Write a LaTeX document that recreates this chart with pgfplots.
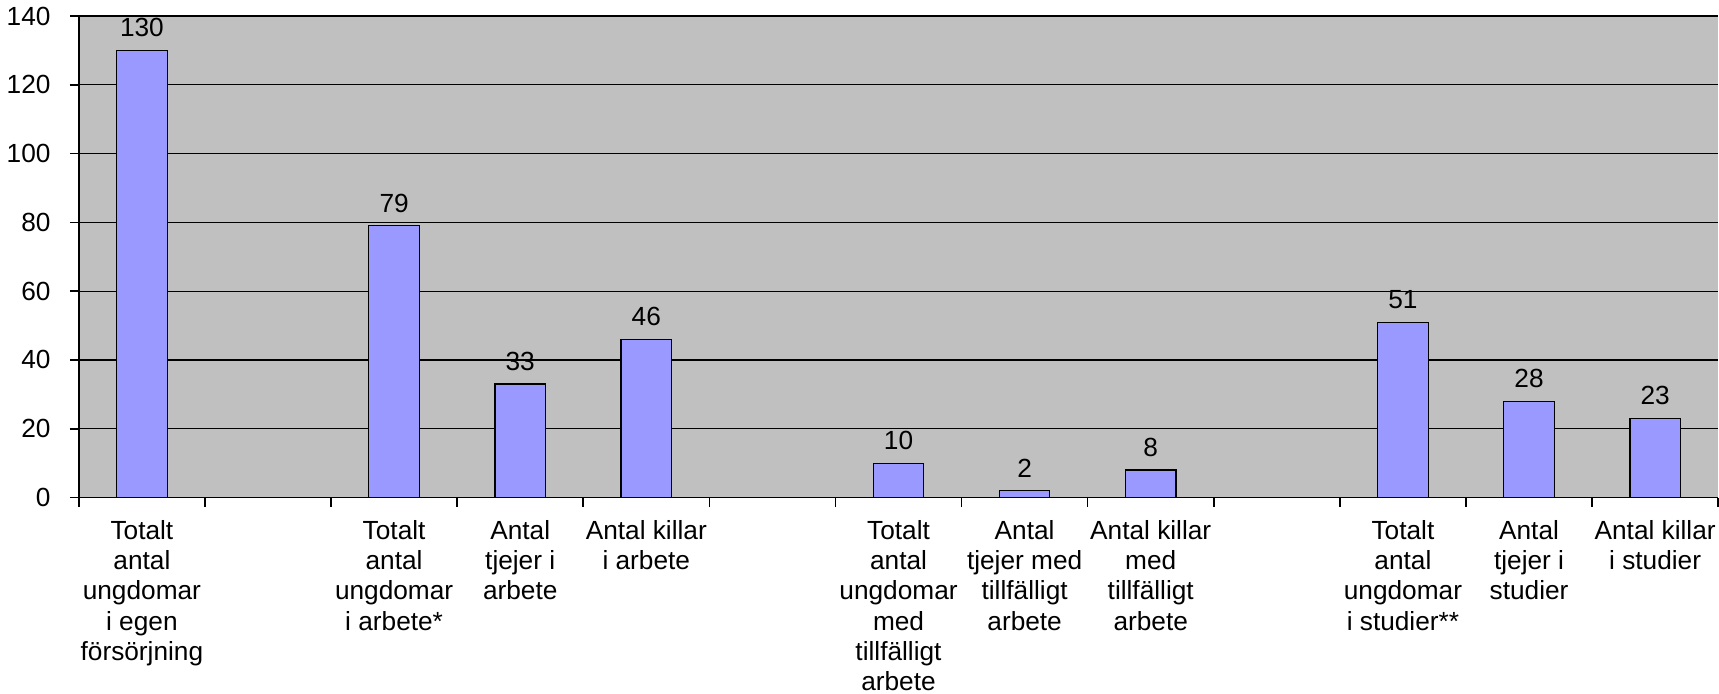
\documentclass[border=0pt]{standalone}
\usepackage{fontspec}
\setmainfont{Liberation Sans}
\usepackage{pgfplots}
\pgfplotsset{compat=1.18}
\definecolor{plotbg}{HTML}{C0C0C0}
\definecolor{barblue}{HTML}{9999FF}
\begin{document}
\begin{tikzpicture}
\begin{axis}[
  scale only axis,
  width=812pt, height=238.5pt,
  axis background/.style={fill=plotbg},
  axis x line*=bottom, axis y line*=left,
  axis line style={black, line width=0.8pt, -},
  xmin=-0.5, xmax=12.5,
  ymin=0, ymax=140,
  ytick={0,20,...,140},
  ymajorgrids, grid style={black, line width=0.6pt},
  xtick={0,...,12},
  xticklabels={
    {Totalt\\antal\\ungdomar\\i egen\\försörjning}, {},
    {Totalt\\antal\\ungdomar\\i arbete*},
    {Antal\\tjejer i\\arbete},
    {Antal killar\\i arbete}, {},
    {Totalt\\antal\\ungdomar\\med\\tillfälligt\\arbete},
    {Antal\\tjejer med\\tillfälligt\\arbete},
    {Antal killar\\med\\tillfälligt\\arbete}, {},
    {Totalt\\antal\\ungdomar\\i studier**},
    {Antal\\tjejer i\\studier},
    {Antal killar\\i studier}},
  xticklabel style={align=center, anchor=north, yshift=-5pt, inner sep=1.5pt,
    font=\fontsize{13}{15}\selectfont},
  major x tick style={draw=none},
  minor xtick={-0.5,0.5,...,12.5},
  minor tick length=4.5pt,
  major tick length=4.5pt,
  tick align=outside,
  tick style={black, line width=0.8pt},
  yticklabel style={font=\fontsize{13}{15}\selectfont, xshift=-6pt},
  /pgf/number format/assume math mode=true,
  ybar, bar width=25pt,
  nodes near coords,
  nodes near coords style={font=\fontsize{13}{15}\selectfont, yshift=3pt},
  clip=false,
]
\addplot[fill=barblue, draw=black, line width=0.6pt] coordinates {
  (0,130) (2,79) (3,33) (4,46) (6,10) (7,2) (8,8) (10,51) (11,28) (12,23)
};
\end{axis}
\end{tikzpicture}
\end{document}
